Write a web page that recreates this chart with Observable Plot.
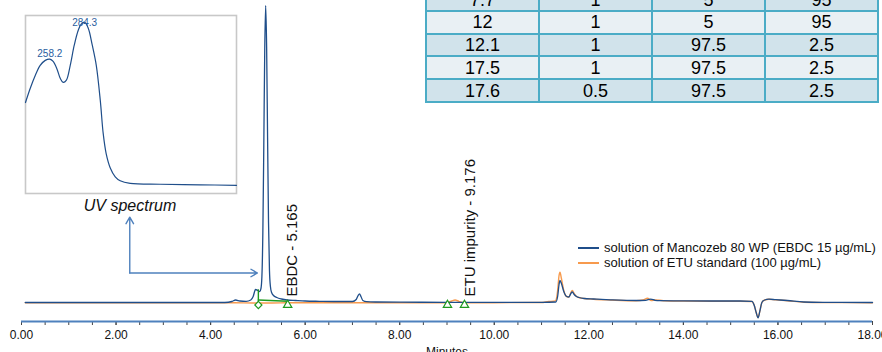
<!DOCTYPE html>
<html><head><meta charset="utf-8">
<script src="https://cdn.jsdelivr.net/npm/d3@7"></script>
<script src="https://cdn.jsdelivr.net/npm/@observablehq/plot@0.6"></script>
<style>
html,body{margin:0;padding:0;background:#fff;}
#wrap{position:relative;width:882px;height:352px;overflow:hidden;font-family:"Liberation Sans",Arial,sans-serif;}
#wrap > *{position:absolute;}
table{border-collapse:collapse;}
td{border:2.5px solid #4bacc6;width:111px;height:20.75px;padding:0;text-align:center;font-size:18px;line-height:20px;color:#000;}
</style></head><body><div id="wrap"></div>
<script>
// ---- Chromatogram: Mancozeb 80 WP solution (blue) ----
const blueT = [0.08, 4.3, 4.45, 4.53, 4.62, 4.75, 4.85, 4.90, 4.95, 5.00, 5.04, 5.065, 5.085, 5.105, 5.125, 5.145, 5.165, 5.185, 5.205, 5.225, 5.245, 5.265, 5.29, 5.33, 5.40, 5.50, 5.62, 5.80, 6.0, 6.3, 6.6, 7.0, 7.08, 7.12, 7.15, 7.18, 7.22, 7.30, 7.5, 8.0, 9.0, 10.0, 11.0, 11.3, 11.34, 11.37, 11.39, 11.42, 11.47, 11.53, 11.58, 11.62, 11.65, 11.69, 11.74, 11.79, 11.9, 12.1, 12.46, 13.0, 13.2, 13.31, 13.4, 13.5, 14.0, 14.6, 15.2, 15.45, 15.50, 15.54, 15.58, 15.62, 15.66, 15.72, 15.81, 15.95, 16.2, 16.55, 17.0, 18.0];
const blueV = [0, 0, 1, 2.5, 1.5, 1.2, 2.5, 6, 13, 12, 11, 14, 26, 70, 157, 253, 297, 255, 165, 80, 32, 16, 10, 7, 5, 3.5, 2.5, 2, 1.5, 1.2, 1, 1, 3, 7, 8.7, 6, 2, 0.8, 0.5, 0.3, 0.2, 0.2, 0.2, 0.5, 6, 18, 22, 19, 11, 6, 5.5, 9, 10.5, 8, 6, 5, 4, 3.5, 2.7, 2, 2.2, 3.4, 2.2, 1.8, 1.6, 1.5, 1.5, 1.2, -3, -10, -15.3, -8, 0, 2.5, 3.3, 2.8, 2, 0.5, 0.2, 0];
// ---- ETU standard solution (orange) ----
const orangeT = [0.08, 4.5, 4.9, 5.1, 5.3, 5.6, 6.0, 9.0, 9.1, 9.17, 9.25, 9.35, 10.0, 11.0, 11.15, 11.25, 11.3, 11.34, 11.37, 11.39, 11.42, 11.47, 11.53, 11.58, 11.62, 11.65, 11.69, 11.74, 11.79, 11.9, 12.1, 12.46, 13.0, 13.15, 13.24, 13.32, 13.4, 13.5, 13.6, 14.0, 14.6, 15.2, 15.45, 15.50, 15.54, 15.58, 15.62, 15.66, 15.72, 15.81, 15.95, 16.2, 16.55, 17.0, 18.0];
const orangeV = [-0.3, -0.3, -0.5, -0.5, -0.5, -0.3, -0.2, -0.2, 1.5, 2.5, 1.2, -0.2, -0.2, 0, 1, 1.2, 2, 12, 27, 30.3, 24, 12, 6, 5.5, 10, 12, 9, 6, 5, 4, 3.2, 2.5, 1.8, 2.5, 4.2, 2, 2.5, 2.3, 1.8, 1.5, 1.3, 1.2, 1, -3, -10, -15, -8, 0, 2.5, 3.2, 2.6, 1.8, 0.2, -0.1, -0.2];
// ---- integration marks ----
const startMarkT = [5.01];
const endMarkT = [5.63, 9.01, 9.37];
const integT = [5.01, 5.63];
const integV = [2.5, 1.3];
// ---- peak labels ----
const peakLabels = ["EBDC - 5.165", "ETU impurity - 9.176"];
const peakLabelT = [5.73, 9.50];
// ---- axis ticks ----
const majorTicks = [0, 2, 4, 6, 8, 10, 12, 14, 16, 18];
const minorTicks = d3.range(0, 18.001, 0.5);
// ---- legend ----
const seriesNames = ["solution of Mancozeb 80 WP (EBDC 15 µg/mL)", "solution of ETU standard (100 µg/mL)"];
const seriesColors = ["#1f4e8a", "#f79a4d"];
// ---- UV spectrum inset ----
const uvNm = [240, 243.5, 247.3, 251.0, 254.8, 258.2, 260.7, 263.7, 266.0, 268.2, 270.5, 273.5, 276.5, 279.5, 281.7, 284.3, 287.0, 290.0, 293.0, 296.0, 298.2, 300.4, 303.4, 307.2, 310.9, 318.4, 340.9, 370.8, 398];
const uvAbs = [0.511, 0.590, 0.663, 0.720, 0.748, 0.755, 0.742, 0.697, 0.647, 0.624, 0.635, 0.720, 0.833, 0.917, 0.951, 0.962, 0.928, 0.833, 0.720, 0.523, 0.336, 0.224, 0.145, 0.094, 0.072, 0.057, 0.052, 0.049, 0.046];
const uvPeakNm = [258.2, 284.3];
const uvPeakLabelAbs = [0.784, 0.961];
// ---- gradient table ----
const tblTime = ["7.7", "12", "12.1", "17.5", "17.6"];
const tblFlow = ["1", "1", "1", "1", "0.5"];
const tblA = ["5", "5", "97.5", "97.5", "97.5"];
const tblB = ["95", "95", "2.5", "2.5", "2.5"];

const FONT = '"Liberation Sans", Arial, sans-serif';
const green = "#1f9a1f";
const arrowBlue = "#4f81bd";
const blue = blueT.map((t, i) => ({t, v: blueV[i]}));
const orange = orangeT.map((t, i) => ({t, v: orangeV[i]}));
const integ = integT.map((t, i) => ({t, v: integV[i]}));
const labels = peakLabels.map((s, i) => ({s, t: peakLabelT[i]}));
const arrows = [
  {x1: 2.29, y1: 29.5, x2: 2.29, y2: 85.3},
  {x1: 2.29, y1: 29.5, x2: 4.99, y2: 29.5}
];

const wrap = document.getElementById("wrap");

const main = Plot.plot({
  width: 882, height: 352,
  marginLeft: 21, marginRight: 10, marginTop: 0, marginBottom: 31,
  x: {domain: [0, 18]},
  y: {domain: [-19, 302], axis: null},
  style: {fontFamily: FONT, background: "transparent", color: "#111", overflow: "visible"},
  marks: [
    Plot.axisX({ticks: minorTicks, tickFormat: () => "", tickSize: 4, stroke: "#444", label: null}),
    Plot.axisX({ticks: majorTicks, tickFormat: d => d.toFixed(2), tickSize: 4, tickPadding: 5, fontSize: 12, stroke: "#444", fill: "#111", label: null}),
    Plot.ruleY([-19], {stroke: "#4f81bd", strokeWidth: 2}),
    Plot.text(["Minutes"], {frameAnchor: "bottom", dy: 26, lineAnchor: "top", fontSize: 12, fill: "#111"}),
    Plot.line(orange, {x: "t", y: "v", stroke: seriesColors[1], strokeWidth: 1.4, curve: "monotone-x"}),
    Plot.line(blue, {x: "t", y: "v", stroke: seriesColors[0], strokeWidth: 1.3, curve: "monotone-x"}),
    Plot.ruleX(startMarkT, {y1: 0.3, y2: 12.7, stroke: green, strokeWidth: 1.4}),
    Plot.line(integ, {x: "t", y: "v", stroke: green, strokeWidth: 1.4}),
    Plot.dot(startMarkT, {x: d => d, y: -2.5, symbol: "diamond2", r: 3.2, stroke: green, fill: "white", strokeWidth: 1.2}),
    Plot.dot(endMarkT, {x: d => d, y: -2.5, symbol: "triangle", r: 3.1, stroke: green, fill: "white", strokeWidth: 1.2}),
    Plot.text(labels, {x: "t", y: 6, text: "s", rotate: -90, textAnchor: "start", lineAnchor: "middle", fontSize: 15, fill: "#111"}),
    Plot.arrow(arrows, {x1: "x1", y1: "y1", x2: "x2", y2: "y2", stroke: arrowBlue, strokeWidth: 1.4, headLength: 8})
  ]
});
main.style.left = "0px"; main.style.top = "0px";
wrap.appendChild(main);

// inset UV spectrum
const uv = uvNm.map((n, i) => ({n, a: uvAbs[i]}));
const uvLab = uvPeakNm.map((n, i) => ({n, a: uvPeakLabelAbs[i], s: n.toFixed(1)}));
const inset = Plot.plot({
  width: 215, height: 182,
  marginLeft: 2, marginRight: 2, marginTop: 2, marginBottom: 2,
  x: {domain: [240, 398], axis: null},
  y: {domain: [0, 1], axis: null},
  style: {fontFamily: FONT, background: "white", overflow: "visible"},
  marks: [
    Plot.frame({stroke: "#c8c8c8", strokeWidth: 1.6}),
    Plot.line(uv, {x: "n", y: "a", stroke: "#1f4e8a", strokeWidth: 1.2, curve: "catmull-rom"}),
    Plot.text(uvLab, {x: "n", y: "a", text: "s", fontSize: 10, fill: "#2a5ea0"})
  ]
});
inset.style.left = "23px"; inset.style.top = "13px";
wrap.appendChild(inset);

const cap = document.createElement("div");
cap.textContent = "UV spectrum";
cap.style.cssText = "left:30px;width:200px;top:197px;text-align:center;font-style:italic;font-size:16px;line-height:18px;color:#111;";
wrap.appendChild(cap);

// legend
const leg = document.createElement("div");
leg.style.cssText = "left:578px;top:239.5px;font-size:13px;line-height:15px;white-space:nowrap;color:#111;";
seriesNames.forEach((name, i) => {
  const row = document.createElement("div");
  const sw = document.createElement("span");
  sw.style.cssText = `display:inline-block;width:21px;height:0;border-top:2px solid ${seriesColors[i]};vertical-align:middle;margin-right:5px;`;
  row.appendChild(sw);
  row.appendChild(document.createTextNode(name));
  leg.appendChild(row);
});
wrap.appendChild(leg);

// gradient table
const table = document.createElement("table");
table.style.left = "425px"; table.style.top = "-12.8px";
tblTime.forEach((t, i) => {
  const tr = document.createElement("tr");
  tr.style.background = i % 2 === 0 ? "#d1e3eb" : "#e9f0f4";
  [t, tblFlow[i], tblA[i], tblB[i]].forEach(v => {
    const td = document.createElement("td");
    td.textContent = v;
    tr.appendChild(td);
  });
  table.appendChild(tr);
});
wrap.appendChild(table);
</script></body></html>
